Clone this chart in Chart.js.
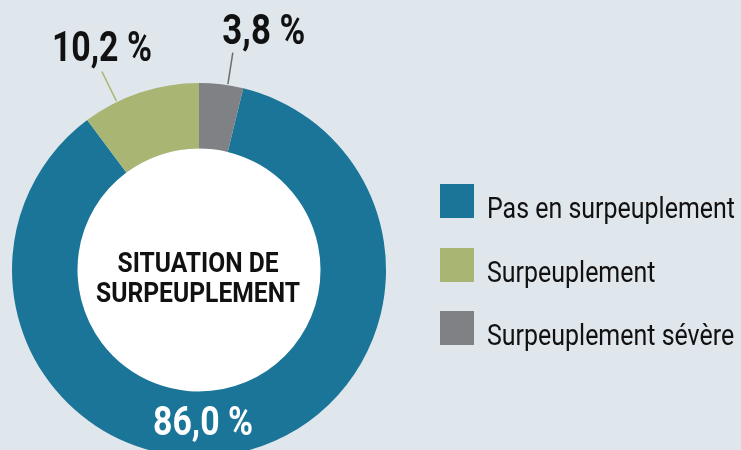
<!DOCTYPE html>
<html>
<head>
<meta charset="utf-8">
<script src="https://cdn.jsdelivr.net/npm/chart.js@4.4.1/dist/chart.umd.min.js"></script>
<style>
  html, body { margin: 0; padding: 0; }
  body {
    width: 741px;
    height: 450px;
    overflow: hidden;
    background: #dfe6ec;
    position: relative;
    font-family: 'Roboto', 'DejaVu Sans Condensed', sans-serif;
  }
  #myChart { position: absolute; left: 0; top: 0; }
  #legend { position: absolute; left: 440px; top: 184px; }
  .row { position: absolute; left: 0; width: 301px; height: 34px; }
  .box { position: absolute; left: 0; top: 0; width: 34px; height: 34px; }
  .txt {
    position: absolute; left: 47px; top: 9px;
    font-size: 30px; line-height: 30px; color: #111; white-space: nowrap;
    transform-origin: 0 0;
  }
</style>
</head>
<body>
<canvas id="myChart" width="741" height="540"></canvas>
<div id="legend"></div>
<script>
const labels = ['Pas en surpeuplement', 'Surpeuplement', 'Surpeuplement sévère'];
const values = [86.0, 10.2, 3.8];
const colors = ['#1a7599', '#a9b673', '#808184'];
const centerLines = ['SITUATION DE', 'SURPEUPLEMENT'];

const fmt = v => v.toFixed(1).replace('.', ',') + ' %';
const total = values.reduce((a, b) => a + b, 0);
// last slice ends at 12 o'clock
const rotation = values[values.length - 1] / total * 360;

const FONT = "'Roboto', 'DejaVu Sans Condensed', sans-serif";

// the original uses a condensed face; squeeze Roboto to the same widths
function drawSqueezed(ctx, text, x, y, font, width) {
    ctx.font = font;
    const sx = width / ctx.measureText(text).width;
    ctx.save();
    ctx.translate(x, y);
    ctx.scale(sx, 1);
    ctx.textAlign = 'center';
    ctx.textBaseline = 'alphabetic';
    ctx.fillText(text, 0, 0);
    ctx.restore();
}

// placement of each value label (index matches values)
const labelPos = [
    { inside: true, angle: 180, dx: 4, dy: 11, width: 100, size: 40, color: '#ffffff' },
    { inside: false, dAngle: -7.7, len: 34, dx: 0, dy: -10, width: 100, size: 42, line: '#a9b673' },
    { inside: false, dAngle: 2, len: 33, dx: 31, dy: -9, width: 83, size: 42, line: '#6d6e71' },
];

const holePlugin = {
    id: 'hole',
    beforeDatasetsDraw(chart) {
        const arc = chart.getDatasetMeta(0).data[0];
        const ctx = chart.ctx;
        ctx.save();
        ctx.beginPath();
        ctx.arc(arc.x, arc.y, arc.innerRadius, 0, Math.PI * 2);
        ctx.fillStyle = '#ffffff';
        ctx.fill();
        ctx.restore();
    }
};

const labelPlugin = {
    id: 'valueLabels',
    afterDatasetsDraw(chart) {
        const ctx = chart.ctx;
        const meta = chart.getDatasetMeta(0);
        ctx.save();
        meta.data.forEach((arc, i) => {
            const p = labelPos[i];
            const text = fmt(values[i]);
            const font = 'bold ' + p.size + 'px ' + FONT;
            if (p.inside) {
                const a = (p.angle - 90) * Math.PI / 180;
                const r = (arc.innerRadius + arc.outerRadius) / 2;
                ctx.fillStyle = p.color;
                drawSqueezed(ctx, text, arc.x + Math.cos(a) * r + p.dx, arc.y + Math.sin(a) * r + p.dy, font, p.width);
            } else {
                const mid = (arc.startAngle + arc.endAngle) / 2 + p.dAngle * Math.PI / 180;
                const x0 = arc.x + Math.cos(mid) * (arc.outerRadius + 1);
                const y0 = arc.y + Math.sin(mid) * (arc.outerRadius + 1);
                const x1 = arc.x + Math.cos(mid) * (arc.outerRadius + p.len);
                const y1 = arc.y + Math.sin(mid) * (arc.outerRadius + p.len);
                ctx.strokeStyle = p.line;
                ctx.lineWidth = 1.5;
                ctx.beginPath();
                ctx.moveTo(x0, y0);
                ctx.lineTo(x1, y1);
                ctx.stroke();
                ctx.fillStyle = '#111111';
                drawSqueezed(ctx, text, x1 + p.dx, y1 + p.dy, font, p.width);
            }
        });
        // title in the hole
        const c = meta.data[0];
        ctx.fillStyle = '#111111';
        drawSqueezed(ctx, centerLines[0], c.x - 1, c.y + 2, 'bold 28px ' + FONT, 161);
        drawSqueezed(ctx, centerLines[1], c.x - 1, c.y + 32, 'bold 28px ' + FONT, 204);
        ctx.restore();
    }
};

const cts = document.querySelector('#myChart').getContext('2d');

const data = {
    labels,
    datasets: [
        {
            data: values,
            backgroundColor: colors,
            borderWidth: 0,
        },
    ],
};

const config = {
    type: 'doughnut',
    data: data,
    options: {
        responsive: false,
        animation: false,
        rotation: rotation,
        cutout: '65%',
        layout: { padding: { left: 12, top: 83, right: 355, bottom: 83 } },
        plugins: {
            legend: { display: false },
            tooltip: { enabled: false },
        },
    },
    plugins: [holePlugin, labelPlugin],
};

const myChart = new Chart(cts, config);

// legend, squeezed so the first entry is 248px wide like the original
const legend = document.getElementById('legend');
const spans = [];
labels.forEach((l, i) => {
    const row = document.createElement('div');
    row.className = 'row';
    row.style.top = (i * 63.5) + 'px';
    row.innerHTML = '<div class="box" style="background:' + colors[i] + '"></div><span class="txt">' + l + '</span>';
    legend.appendChild(row);
    spans.push(row.querySelector('.txt'));
});
const sx = 248 / spans[0].getBoundingClientRect().width;
spans.forEach(s => { s.style.transform = 'scaleX(' + sx + ')'; });
</script>
</body>
</html>
